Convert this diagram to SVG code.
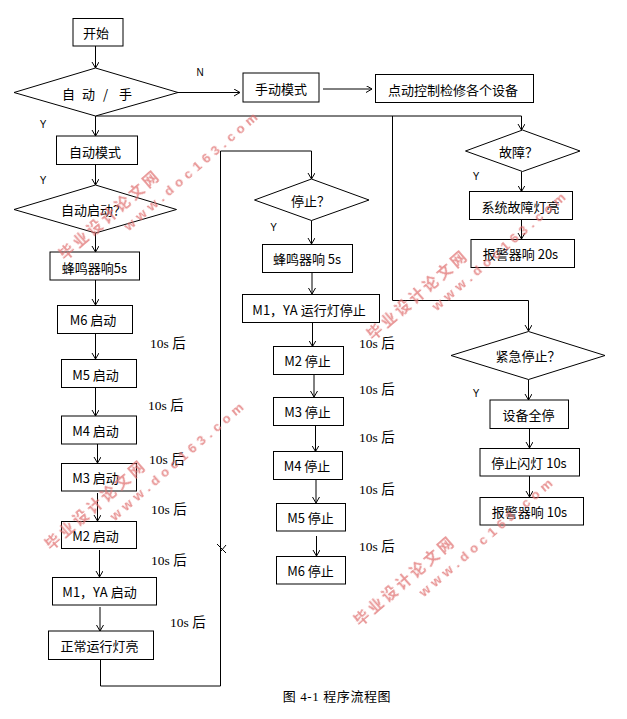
<svg xmlns="http://www.w3.org/2000/svg" width="627" height="719" viewBox="0 0 627 719">
<style>
.box{fill:#fff;stroke:#000;stroke-width:1}
.t{font-family:"Noto Sans CJK SC","Noto Sans",sans-serif;font-size:13px;fill:#000;dominant-baseline:central;text-anchor:middle}
.ts{font-family:"Noto Sans CJK SC","Noto Sans",sans-serif;font-size:13px;fill:#000;dominant-baseline:central}
.lbl{font-family:"Liberation Sans",Arial,sans-serif;font-size:10px;fill:#000;dominant-baseline:central;text-anchor:middle}
.dl{font-family:"Liberation Serif","Noto Sans CJK SC",serif;font-size:13.5px;fill:#000;dominant-baseline:central}
.conn{fill:none;stroke:#000;stroke-width:1}
.wm1{font-family:"Noto Sans CJK SC",sans-serif;font-size:15px;font-weight:bold;letter-spacing:3.4px;fill:#e07070}
.wm2{font-family:"Liberation Sans",Arial,sans-serif;font-size:13.5px;font-weight:bold;fill:#e07070}
.cap{font-family:"Liberation Serif","Noto Sans CJK SC",serif;font-size:13px;letter-spacing:0.6px;fill:#000;text-anchor:middle;dominant-baseline:central}
</style>
<defs>
<marker id="ah" markerUnits="userSpaceOnUse" markerWidth="8" markerHeight="9" refX="6" refY="3.5" orient="auto">
<path d="M0,0 L6,3.5 L0,7" fill="none" stroke="#000" stroke-width="1"/>
</marker>
<g id="wm">
<text class="wm1" x="-7.5" y="5">毕业设计论文网</text>
<text class="wm2" x="60" y="24.5" textLength="172" lengthAdjust="spacing">www.doc163.com</text>
</g>
</defs>
<rect width="627" height="719" fill="#fff"/>

<g id="connectors">
<path class="conn" d="M95.5,46 V68" marker-end="url(#ah)"/>
<path class="conn" d="M178,92.5 H240" marker-end="url(#ah)"/>
<path class="conn" d="M323,89 H372" marker-end="url(#ah)"/>
<path class="conn" d="M95.5,116 H521.5 V130" marker-end="url(#ah)"/>
<path class="conn" d="M95.5,116 V136" marker-end="url(#ah)"/>
<path class="conn" d="M95.5,164.5 V185" marker-end="url(#ah)"/>
<path class="conn" d="M95.5,233 V252" marker-end="url(#ah)"/>
<path class="conn" d="M95.5,280 V305" marker-end="url(#ah)"/>
<path class="conn" d="M95.5,333.5 V359" marker-end="url(#ah)"/>
<path class="conn" d="M95.5,387.5 V416" marker-end="url(#ah)"/>
<path class="conn" d="M97.5,444 V463" marker-end="url(#ah)"/>
<path class="conn" d="M97.5,493 V521" marker-end="url(#ah)"/>
<path class="conn" d="M99.5,550 V577" marker-end="url(#ah)"/>
<path class="conn" d="M100,607 V631" marker-end="url(#ah)"/>
<path class="conn" d="M100.5,659.5 V686 H220.5 V151 H311.5 V179" marker-end="url(#ah)"/>
<path class="conn" d="M217,544 L226,553 M221,551 L226,545"/>
<path class="conn" d="M311.5,220.5 V244" marker-end="url(#ah)"/>
<path class="conn" d="M312,272.5 V294" marker-end="url(#ah)"/>
<path class="conn" d="M312.5,322.5 V346.5" marker-end="url(#ah)"/>
<path class="conn" d="M314,374.5 V397" marker-end="url(#ah)"/>
<path class="conn" d="M315.5,425.5 V451.5" marker-end="url(#ah)"/>
<path class="conn" d="M316,479.5 V503" marker-end="url(#ah)"/>
<path class="conn" d="M316.5,536 V556" marker-end="url(#ah)"/>
<path class="conn" d="M392.5,116 V300.5 H528.5 V331" marker-end="url(#ah)"/>
<path class="conn" d="M521.5,171.5 V191.5" marker-end="url(#ah)"/>
<path class="conn" d="M521.5,219.5 V239" marker-end="url(#ah)"/>
<path class="conn" d="M528.5,379.5 V400" marker-end="url(#ah)"/>
<path class="conn" d="M529.5,428.5 V448" marker-end="url(#ah)"/>
<path class="conn" d="M529.5,476 V497" marker-end="url(#ah)"/>
</g>

<g id="start"><rect class="box" x="73" y="18.5" width="50" height="27.5"/><text class="t" x="96" y="32.5">开始</text></g>
<g id="mode"><polygon class="box" points="95.5,68 178,92.5 95.5,116 14,92.5"/>
<text class="ts" x="62" y="93">自 <tspan x="82">动 </tspan><tspan x="103">/ </tspan><tspan x="119">手</tspan></text></g>
<g id="manual"><rect class="box" x="243" y="73" width="76" height="29"/><text class="t" x="281" y="88">手动模式</text></g>
<g id="jog"><rect class="box" x="375.5" y="74.5" width="158" height="28"/><text class="t" x="453" y="89">点动控制检修各个设备</text></g>
<g id="auto"><rect class="box" x="56.5" y="136" width="81" height="28.5"/><text class="t" x="95" y="151">自动模式</text></g>
<g id="autostart"><polygon class="box" points="95.5,185 176.5,209.5 95.5,233 14,209.5"/><text class="ts" x="61" y="209">自动启动？</text></g>
<g id="buzz1"><rect class="box" x="50" y="252" width="89.5" height="28"/><text class="t" x="94.5" y="267.5">蜂鸣器响5s</text></g>
<g id="m6s"><rect class="box" x="57.5" y="305.5" width="75" height="28"/><text class="t" x="93" y="319.5">M6 启动</text></g>
<g id="m5s"><rect class="box" x="61.5" y="359.5" width="75" height="28"/><text class="t" x="95.5" y="374">M5 启动</text></g>
<g id="m4s"><rect class="box" x="61.5" y="416" width="75" height="28"/><text class="t" x="95.5" y="430">M4 启动</text></g>
<g id="m3s"><rect class="box" x="61.5" y="463.5" width="75" height="27.5"/><text class="t" x="95.5" y="477">M3 启动</text></g>
<g id="m2s"><rect class="box" x="61.5" y="521.5" width="75" height="27"/><text class="t" x="95.5" y="535">M2 启动</text></g>
<g id="m1s"><rect class="box" x="52.5" y="577.5" width="104" height="27.5"/><text class="t" x="99.5" y="591.5">M1，YA 启动</text></g>
<g id="normal"><rect class="box" x="48.5" y="631" width="105" height="28.5"/><text class="t" x="99.5" y="645.5">正常运行灯亮</text></g>

<g id="stopq"><polygon class="box" points="311.5,179 369,200 311.5,220.5 254.5,200"/><text class="ts" x="291" y="200.5">停止？</text></g>
<g id="buzz2"><rect class="box" x="262.5" y="244.5" width="90" height="28"/><text class="t" x="307" y="258.5">蜂鸣器响 5s</text></g>
<g id="m1stop"><rect class="box" x="242.5" y="294.5" width="137" height="28"/><text class="t" x="309" y="309">M1，YA 运行灯停止</text></g>
<g id="m2stop"><rect class="box" x="273.5" y="346.5" width="70" height="28"/><text class="t" x="307.5" y="360">M2 停止</text></g>
<g id="m3stop"><rect class="box" x="273.5" y="397.5" width="70" height="28"/><text class="t" x="307.5" y="411.5">M3 停止</text></g>
<g id="m4stop"><rect class="box" x="273.5" y="451.5" width="69" height="28"/><text class="t" x="307" y="465">M4 停止</text></g>
<g id="m5stop"><rect class="box" x="276.5" y="503.5" width="69" height="27.5"/><text class="t" x="310.5" y="517">M5 停止</text></g>
<g id="m6stop"><rect class="box" x="276.5" y="556.5" width="69" height="27.5"/><text class="t" x="310.5" y="570">M6 停止</text></g>

<g id="fault"><polygon class="box" points="522.5,130 580,151 522.5,171.5 465.5,151"/><text class="ts" x="499" y="151">故障？</text></g>
<g id="faultlamp"><rect class="box" x="469.5" y="191.5" width="103" height="28"/><text class="t" x="520.5" y="206">系统故障灯亮</text></g>
<g id="alarm20"><rect class="box" x="471" y="239.5" width="103.5" height="28"/><text class="t" x="520.5" y="253">报警器响 20s</text></g>
<g id="estop"><polygon class="box" points="528.5,331.5 605,355.5 528.5,379.5 451,355.5"/><text class="ts" x="495.5" y="355">紧急停止？</text></g>
<g id="allstop"><rect class="box" x="490" y="400" width="78.5" height="28.5"/><text class="t" x="528.5" y="414.5">设备全停</text></g>
<g id="flash"><rect class="box" x="480" y="448.5" width="99.5" height="27.5"/><text class="t" x="529" y="462">停止闪灯 10s</text></g>
<g id="alarm10"><rect class="box" x="480" y="497.5" width="103.5" height="27.5"/><text class="t" x="529.5" y="511.5">报警器响 10s</text></g>

<g id="labels">
<text class="lbl" x="200" y="72">N</text>
<text class="lbl" x="43" y="124">Y</text>
<text class="lbl" x="43" y="180">Y</text>
<text class="lbl" x="273.5" y="227">Y</text>
<text class="lbl" x="476" y="176.5">Y</text>
<text class="lbl" x="476" y="393">Y</text>
<text class="dl" x="150" y="343">10s 后</text>
<text class="dl" x="148" y="405.5">10s 后</text>
<text class="dl" x="149" y="459">10s 后</text>
<text class="dl" x="151" y="509">10s 后</text>
<text class="dl" x="151" y="560">10s 后</text>
<text class="dl" x="170" y="622">10s 后</text>
<text class="dl" x="359" y="343">10s 后</text>
<text class="dl" x="359" y="389">10s 后</text>
<text class="dl" x="359" y="437">10s 后</text>
<text class="dl" x="359" y="489">10s 后</text>
<text class="dl" x="359" y="546.5">10s 后</text>
<text class="cap" x="337" y="696">图 4-1 程序流程图</text>
</g>

<g id="watermarks" opacity="0.75">
<use href="#wm" transform="translate(67,252) rotate(-41)"/>
<use href="#wm" transform="translate(375,332) rotate(-41)"/>
<use href="#wm" transform="translate(53,542) rotate(-41)"/>
<use href="#wm" transform="translate(362,618) rotate(-41)"/>
</g>
</svg>
